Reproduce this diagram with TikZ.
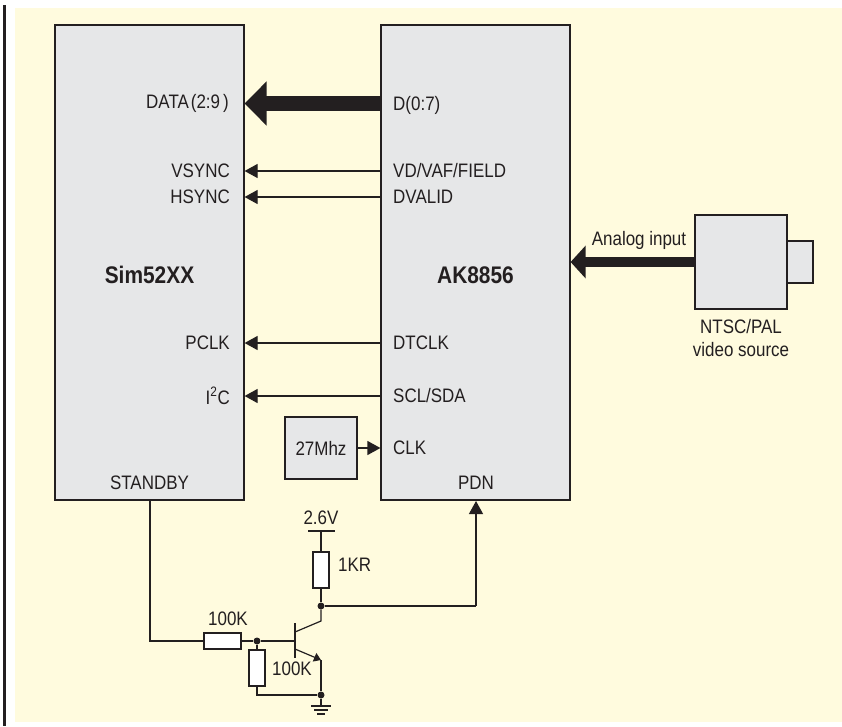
\documentclass[tikz,border=0pt]{standalone}
\usepackage{fontspec}
\setmainfont[FakeStretch=0.87]{Liberation Sans}
\usetikzlibrary{arrows.meta}
\definecolor{ink}{HTML}{231F20}
\definecolor{paper}{HTML}{FFFBDE}
\definecolor{boxgray}{HTML}{E6E7E8}
\tikzset{
  chip/.style={draw=ink,line width=1.2pt,fill=boxgray,inner sep=0pt},
  res/.style={draw=ink,line width=1.2pt,fill=white,inner sep=0pt},
  lbl/.style={inner sep=0pt,text=ink,font=\fontsize{19.5}{22}\selectfont},
  bold/.style={lbl,font=\fontsize{24}{28}\selectfont\bfseries},
  wire/.style={draw=ink,line width=1.2pt},
  sig/.style={wire,-{Triangle[length=13pt,width=14pt]}},
  bus/.style={draw=ink,line width=15pt,-{Triangle[length=22pt,width=43pt]},shorten >=0pt},
  ana/.style={draw=ink,line width=10.5pt,-{Triangle[length=15pt,width=32pt]}},
  dot/.style={circle,fill=ink,inner sep=0pt,minimum size=7pt},
}
\begin{document}
\begin{tikzpicture}[x=1pt,y=-1pt]
\useasboundingbox (0,0) rectangle (842,726);
\fill[paper] (15,8) rectangle (842,722);
\fill[ink] (3,5) rectangle (6,726);
% chips
\node[chip,minimum width=189pt,minimum height=475pt] (sim) at (149.5,262.5) {};
\node[chip,minimum width=189pt,minimum height=475pt] (ak) at (475.5,262.5) {};
\node[bold] at (149.5,275) {Sim52XX};
\node[bold] at (475.5,275) {AK8856};
% left labels
\node[lbl,anchor=east] (ldata) at (229,103) {DATA\hspace{2pt}(2:9\hspace{3pt})};
\node[lbl,anchor=east] (lvsync) at (230,171) {VSYNC};
\node[lbl,anchor=east] (lhsync) at (230,197) {HSYNC};
\node[lbl,anchor=east] (lpclk) at (230,343) {PCLK};
\node[lbl,anchor=east] (li2c) at (230,396) {I\textsuperscript{2}C};
\node[lbl] at (149.5,483) {STANDBY};
% right labels
\node[lbl,anchor=west] (rd) at (393,105) {D(0:7)};
\node[lbl,anchor=west] (rvd) at (393,171) {VD/VAF/FIELD};
\node[lbl,anchor=west] (rdv) at (393,197) {DVALID};
\node[lbl,anchor=west] (rdt) at (393,343) {DTCLK};
\node[lbl,anchor=west] (rscl) at (393,396) {SCL/SDA};
\node[lbl,anchor=west] (rclk) at (393,448) {CLK};
\node[lbl] (pdn) at (476,483) {PDN};
% signals
\draw[bus] (ak.west |- 0,103.5) -- (sim.east |- 0,103.5);
\draw[sig] (ak.west |- rvd) -- (sim.east |- rvd);
\draw[sig] (ak.west |- rdv) -- (sim.east |- rdv);
\draw[sig] (ak.west |- rdt) -- (sim.east |- rdt);
\draw[sig] (ak.west |- rscl) -- (sim.east |- rscl);
% oscillator
\node[chip,minimum width=72pt,minimum height=62pt,lbl,draw=ink] (osc) at (321,448) {27Mhz};
\draw[sig] (osc.east) -- (ak.west |- osc.east);
% camera
\node[chip,minimum width=26pt,minimum height=42pt] (lens) at (800,262) {};
\node[chip,minimum width=92pt,minimum height=94pt] (cam) at (741,262) {};
\draw[ana] (cam.west) -- (ak.east |- cam.west);
\node[lbl] at (639,240) {Analog input};
\node[lbl,align=center,font=\fontsize{19.5}{23}\selectfont] at (741,338) {NTSC/PAL\\video source};
% transistor circuit
\coordinate (stbcorner) at (150,641);
\node[res,minimum width=37pt,minimum height=16pt] (r1) at (222.5,641) {};
\node[dot] (jb) at (257,641) {};
\node[res,minimum width=16pt,minimum height=36pt] (r2) at (257,668) {};
\coordinate (base) at (295,641);
\coordinate (bartop) at (295,623);
\coordinate (barbot) at (295,658);
\coordinate (cin) at (295,632);
\coordinate (cout) at (321,621);
\coordinate (ein) at (295,649);
\coordinate (eout) at (321,660);
\node[dot] (jc) at (321,606) {};
\node[dot] (je) at (321,695) {};
\node[res,minimum width=16pt,minimum height=36pt] (r3) at (321,570) {};
\coordinate (vcc) at (321,531);
\coordinate (corner) at (476,606);
\coordinate (rcorner) at (257,695);
\coordinate (gnd) at (321,706);
\draw[wire] (150,500) -- (stbcorner) -- (r1.west);
\draw[wire] (r1.east) -- (jb) -- (base);
\draw[wire] (jb) -- (r2.north);
\draw[wire] (r2.south) -- (rcorner) -- (je);
\draw[wire] (bartop) -- (barbot);
\draw[wire] (cin) -- (cout) -- (jc);
\draw[wire] (jc) -- (r3.south);
\draw[wire] (r3.north) -- (vcc);
\draw[wire] (308,531) -- (335,531);
\draw[wire] (jc) -- (corner);
\draw[sig] (corner) -- (476,501);
\draw[wire,-{Triangle[length=7pt,width=9pt]}] (ein) -- (eout);
\draw[wire] (eout) -- (je) -- (gnd);
\draw[wire] (311,706) -- (331,706);
\draw[wire] (314,710) -- (328,710);
\draw[wire] (317,714) -- (325,714);
\node[lbl] at (228,619) {100K};
\node[lbl] at (292,669) {100K};
\node[lbl] at (321,518) {2.6V};
\node[lbl,anchor=west] at (338,565) {1KR};
\end{tikzpicture}
\end{document}
